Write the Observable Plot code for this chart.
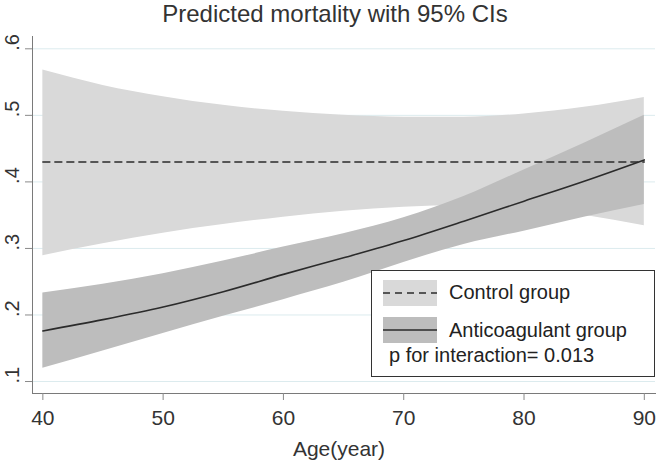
<!DOCTYPE html>
<html><head><meta charset="utf-8">
<script src="https://cdn.jsdelivr.net/npm/d3@7"></script>
<script src="https://cdn.jsdelivr.net/npm/@observablehq/plot@0.6"></script>
<style>
body{margin:0;background:#fff;font-family:"Liberation Sans",Arial,sans-serif;}
#wrap{position:relative;width:660px;height:465px;}
.lg{position:absolute;font-size:20px;line-height:20px;color:#222;white-space:nowrap;}
#box{position:absolute;left:371px;top:270px;width:284px;height:107px;box-sizing:border-box;border:1.3px solid #333;background:#fff;}
.sw{position:absolute;left:383px;width:54px;height:26px;}
</style>
</head><body>
<div id="wrap"></div>
<script>
const ages = [40,45,50,55,60,65,70,75,80,85,90];
const controlMean = [0.43,0.43,0.43,0.43,0.43,0.43,0.43,0.43,0.43,0.43,0.43];
const controlLow  = [0.289,0.307,0.323,0.336,0.347,0.356,0.362,0.364,0.361,0.350,0.334];
const controlHigh = [0.568,0.545,0.528,0.515,0.506,0.500,0.497,0.497,0.502,0.512,0.527];
const antiMean = [0.176,0.193,0.212,0.235,0.261,0.286,0.312,0.341,0.371,0.401,0.433];
const antiLow  = [0.120,0.146,0.172,0.198,0.223,0.249,0.279,0.306,0.326,0.347,0.366];
const antiHigh = [0.233,0.246,0.262,0.281,0.302,0.322,0.346,0.378,0.418,0.458,0.500];
const xTicks = [40,50,60,70,80,90];
const yTicks = [0.1,0.2,0.3,0.4,0.5,0.6];
const yTickLabels = [".1",".2",".3",".4",".5",".6"];
const titleText = "Predicted mortality with 95% CIs";
const xLabel = "Age(year)";
const legendLabels = ["Control group","Anticoagulant group"];
const noteText = "p for interaction= 0.013";

const rows = ages.map((a,i)=>({age:a,cMean:controlMean[i],cLo:controlLow[i],cHi:controlHigh[i],aMean:antiMean[i],aLo:antiLow[i],aHi:antiHigh[i]}));
const yLab = yTicks.map((v,i)=>({v,t:yTickLabels[i]}));
const FONT = "Liberation Sans, Arial, sans-serif";
const lightFill = "#d9d9d9", darkFill = "#bdbdbd", lineCol = "#2b2b2b";

const chart = Plot.plot({
  width:660, height:465,
  marginLeft:32, marginRight:5, marginTop:36, marginBottom:72,
  x:{domain:[39.14,90.93]},
  y:{domain:[0.082,0.6185]},
  style:{fontFamily:FONT, background:"#fff", color:"#333"},
  marks:[
    Plot.gridY(yTicks,{stroke:"#dcebee",strokeOpacity:1,strokeWidth:1}),
    Plot.areaY(rows,{x:"age",y1:"cLo",y2:"cHi",fill:lightFill,curve:"monotone-x"}),
    Plot.areaY(rows,{x:"age",y1:"aLo",y2:"aHi",fill:darkFill,curve:"monotone-x"}),
    Plot.lineY(rows,{x:"age",y:"cMean",stroke:lineCol,strokeWidth:1.5,strokeDasharray:"7,5"}),
    Plot.lineY(rows,{x:"age",y:"aMean",stroke:lineCol,strokeWidth:1.6,curve:"monotone-x"}),
    Plot.frame({anchor:"left",stroke:"#7a7a7a"}),
    Plot.frame({anchor:"bottom",stroke:"#7a7a7a"}),
    Plot.axisX(xTicks,{tickSize:7,tickPadding:10,fontSize:21,stroke:"#8a8a8a",fill:"#333",label:null}),
    Plot.axisY(yTicks,{tickSize:7,stroke:"#8a8a8a",fill:"none",label:null}),
    Plot.text(yLab,{y:"v",text:"t",frameAnchor:"left",dx:-14,dy:2,rotate:-90,textAnchor:"start",lineAnchor:"bottom",fontSize:20,fill:"#333"}),
    Plot.text([titleText],{frameAnchor:"top",text:d=>d,dx:-9,dy:-15,lineAnchor:"bottom",fontSize:24,fill:"#333"}),
    Plot.text([xLabel],{frameAnchor:"bottom",text:d=>d,dx:-5,dy:62,lineAnchor:"bottom",fontSize:21,fill:"#333"})
  ]
});
const wrap = document.getElementById("wrap");
wrap.appendChild(chart);

// legend
const box = document.createElement("div"); box.id="box"; wrap.appendChild(box);
function swatch(top, fill, dash){
  const ns="http://www.w3.org/2000/svg";
  const s=document.createElementNS(ns,"svg"); s.setAttribute("class","sw"); s.style.top=top+"px";
  s.setAttribute("width","54"); s.setAttribute("height","26");
  const r=document.createElementNS(ns,"rect"); r.setAttribute("width","54"); r.setAttribute("height","26"); r.setAttribute("fill",fill); s.appendChild(r);
  const l=document.createElementNS(ns,"line"); l.setAttribute("x1","0"); l.setAttribute("x2","54"); l.setAttribute("y1","13"); l.setAttribute("y2","13");
  l.setAttribute("stroke",lineCol); l.setAttribute("stroke-width","1.5"); if(dash) l.setAttribute("stroke-dasharray",dash); s.appendChild(l);
  wrap.appendChild(s);
}
swatch(280, lightFill, "7,5");
swatch(317, darkFill, null);
function label(txt,left,top){const d=document.createElement("div");d.className="lg";d.style.left=left+"px";d.style.top=top+"px";d.textContent=txt;wrap.appendChild(d);}
label(legendLabels[0],449,282);
label(legendLabels[1],449,320);
label(noteText,389,345);
</script>
</body></html>
